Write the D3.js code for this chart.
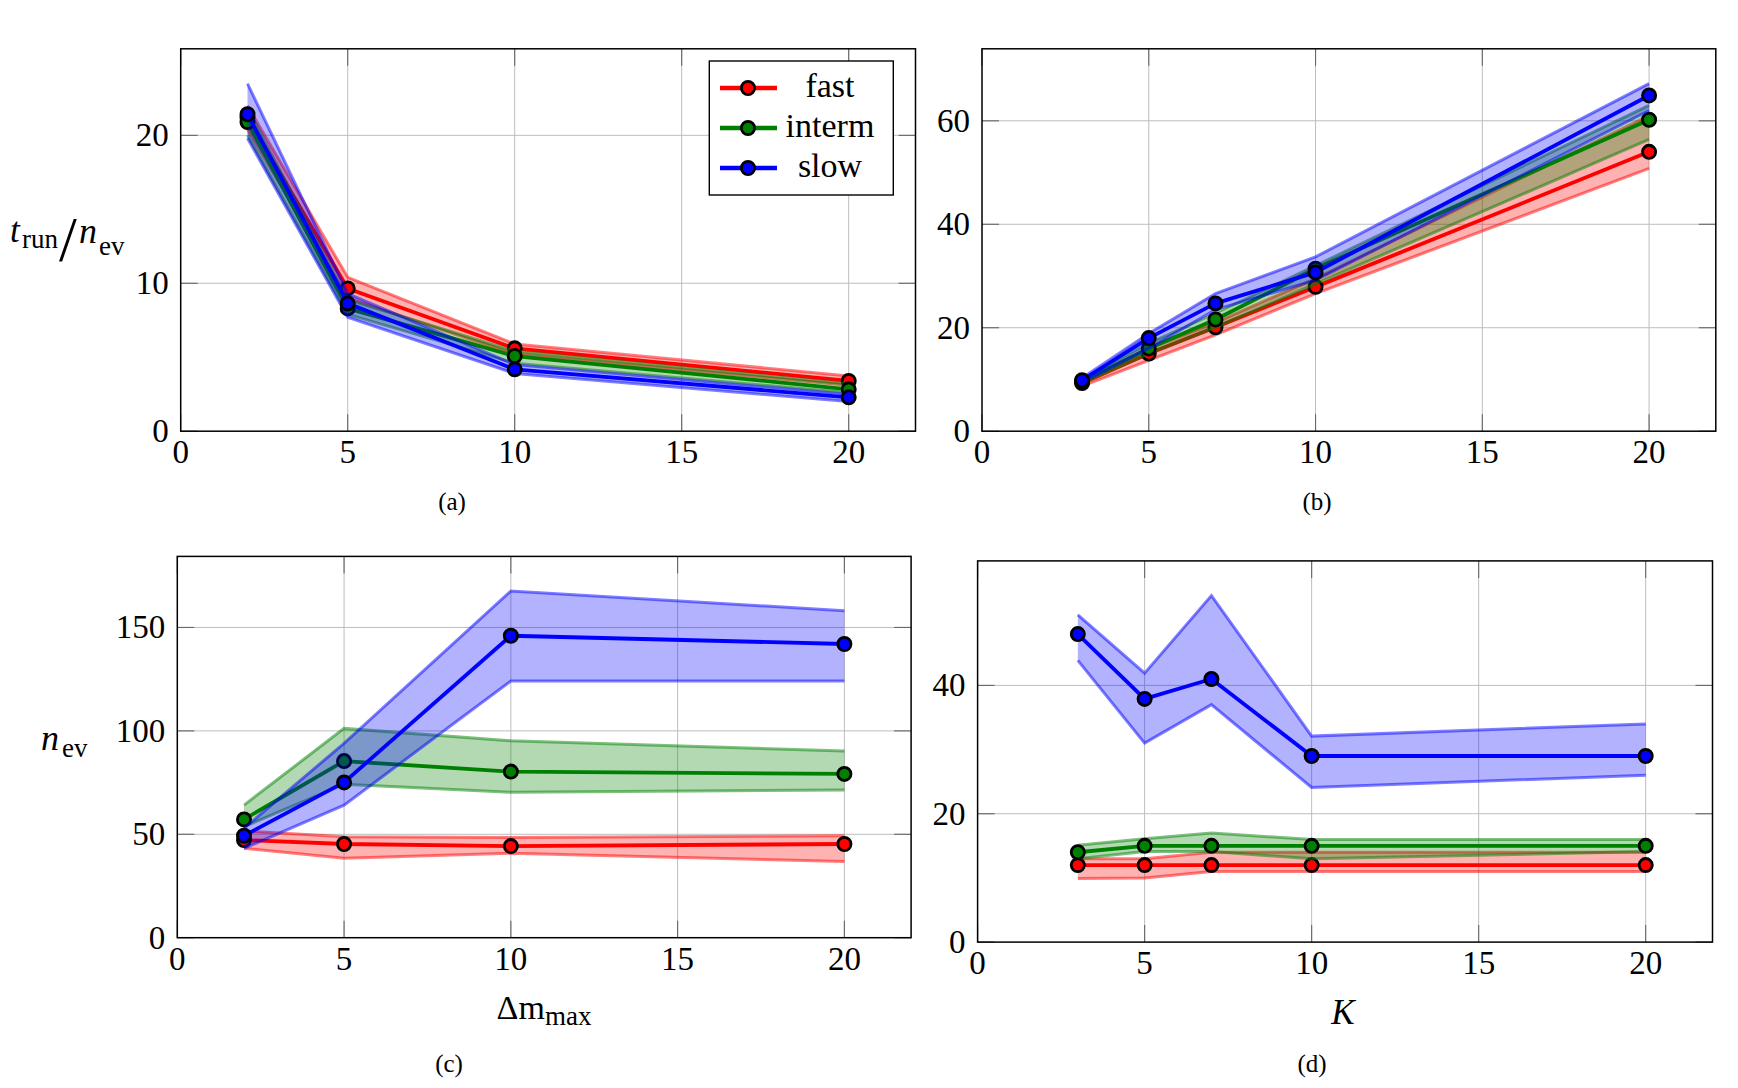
<!DOCTYPE html>
<html>
<head>
<meta charset="utf-8">
<script src="https://cdn.jsdelivr.net/npm/d3@7"></script>
<style>
  body { margin: 0; background: #fff; }
  text { font-family: "Liberation Serif", serif; fill: #000; }
</style>
</head>
<body>
<svg id="fig" width="1738" height="1088"></svg>
<script>
// series names and colours
const seriesNames = ["fast", "interm", "slow"];
const seriesColors = ["#ff0000", "#008000", "#0000ff"];
const xTicks = [0, 5, 10, 15, 20];

// (a) t_run / n_ev against Δm_max
const aX = [2, 5, 10, 20];
const aFastMean = [21.2, 9.65, 5.6, 3.4];
const aFastLow = [20.4, 9.0, 5.2, 3.1];
const aFastHigh = [22.0, 10.4, 5.9, 3.73];
const aIntermMean = [20.9, 8.3, 5.08, 2.83];
const aIntermLow = [20.0, 7.9, 4.6, 2.6];
const aIntermHigh = [21.8, 8.9, 5.4, 3.2];
const aSlowMean = [21.43, 8.64, 4.18, 2.29];
const aSlowLow = [19.8, 7.7, 3.9, 2.0];
const aSlowHigh = [23.5, 9.3, 4.5, 2.5];
const aYTicks = [0, 10, 20];

// (b) t_run / n_ev against K
const bX = [3, 5, 7, 10, 20];
const bFastMean = [9.3, 15.0, 20.1, 27.9, 54.0];
const bFastLow = [8.7, 13.7, 18.6, 26.6, 50.8];
const bFastHigh = [9.8, 16.0, 21.0, 29.5, 61.0];
const bIntermMean = [9.6, 16.0, 21.6, 31.4, 60.2];
const bIntermLow = [9.2, 15.0, 20.0, 28.5, 56.4];
const bIntermHigh = [10.1, 17.0, 22.8, 32.0, 63.0];
const bSlowMean = [9.85, 18.0, 24.7, 30.7, 64.9];
const bSlowLow = [9.4, 16.0, 23.5, 29.2, 62.0];
const bSlowHigh = [10.3, 18.9, 26.6, 33.7, 67.2];
const bYTicks = [0, 20, 40, 60];

// (c) n_ev against Δm_max
const cX = [2, 5, 10, 20];
const cFastMean = [47.2, 45.3, 44.3, 45.3];
const cFastLow = [43.2, 38.4, 40.8, 36.8];
const cFastHigh = [51.6, 48.8, 48.5, 49.3];
const cIntermMean = [57.2, 85.4, 80.3, 79.2];
const cIntermLow = [53.7, 74.2, 70.3, 71.4];
const cIntermHigh = [64.1, 101.2, 95.2, 90.3];
const cSlowMean = [49.3, 75.1, 146.0, 142.0];
const cSlowLow = [43.2, 64.1, 124.1, 124.1];
const cSlowHigh = [52.9, 94.0, 167.6, 158.1];
const cYTicks = [0, 50, 100, 150];

// (d) n_ev against K
const dX = [3, 5, 7, 10, 20];
const dFastMean = [12, 12, 12, 12, 12];
const dFastLow = [9.9, 10.0, 11.0, 11.0, 11.0];
const dFastHigh = [13.0, 13.0, 14.0, 14.0, 14.0];
const dIntermMean = [14.0, 15.0, 15.0, 15.0, 15.0];
const dIntermLow = [13.0, 14.1, 14.1, 13.0, 14.1];
const dIntermHigh = [15.1, 16.1, 17.0, 16.0, 16.0];
const dSlowMean = [48.0, 37.9, 41.0, 29.0, 29.0];
const dSlowLow = [43.9, 31.0, 37.0, 24.1, 26.0];
const dSlowHigh = [51.0, 41.9, 54.0, 32.1, 34.0];
const dYTicks = [0, 20, 40];

const svg = d3.select("#fig");
const markR = 6.6, markW = 2.8;

function makeSeries(x, groups) {
  return groups.map((gr, i) => ({
    name: seriesNames[i], color: seriesColors[i],
    pts: x.map((xv, j) => ({ x: xv, m: gr[0][j], lo: gr[1][j], hi: gr[2][j] }))
  }));
}

const panels = [
  { left: 180.7, right: 915.5, top: 48.8, bottom: 431.2, yTicks: aYTicks,
    series: makeSeries(aX, [[aFastMean, aFastLow, aFastHigh], [aIntermMean, aIntermLow, aIntermHigh], [aSlowMean, aSlowLow, aSlowHigh]]) },
  { left: 982.0, right: 1715.8, top: 48.8, bottom: 431.2, yTicks: bYTicks,
    series: makeSeries(bX, [[bFastMean, bFastLow, bFastHigh], [bIntermMean, bIntermLow, bIntermHigh], [bSlowMean, bSlowLow, bSlowHigh]]) },
  { left: 177.3, right: 911.1, top: 556.4, bottom: 937.7, yTicks: cYTicks,
    series: makeSeries(cX, [[cFastMean, cFastLow, cFastHigh], [cIntermMean, cIntermLow, cIntermHigh], [cSlowMean, cSlowLow, cSlowHigh]]) },
  { left: 977.6, right: 1712.5, top: 560.9, bottom: 942.1, yTicks: dYTicks,
    series: makeSeries(dX, [[dFastMean, dFastLow, dFastHigh], [dIntermMean, dIntermLow, dIntermHigh], [dSlowMean, dSlowLow, dSlowHigh]]) }
];

function drawPanel(p) {
  const g = svg.append("g");
  const x = d3.scaleLinear().domain([0, 22]).range([p.left, p.right]);
  // pgfplots style: ymin 0, ymax enlarged by 10 %
  const yMax = 1.1 * d3.max(p.series, s => d3.max(s.pts, d => d.hi));
  const y = d3.scaleLinear().domain([0, yMax]).range([p.bottom, p.top]);

  // grid
  g.selectAll(".gx").data(xTicks.filter(t => t > 0)).join("line")
    .attr("x1", d => x(d)).attr("x2", d => x(d))
    .attr("y1", p.top).attr("y2", p.bottom)
    .attr("stroke", "#bdbdbd").attr("stroke-width", 1);
  g.selectAll(".gy").data(p.yTicks.filter(t => t > 0)).join("line")
    .attr("y1", d => y(d)).attr("y2", d => y(d))
    .attr("x1", p.left).attr("x2", p.right)
    .attr("stroke", "#bdbdbd").attr("stroke-width", 1);

  // tick marks inside on all four sides
  const tl = 17;
  xTicks.forEach(t => {
    [[p.bottom, p.bottom - tl], [p.top, p.top + tl]].forEach(([a, b]) =>
      g.append("line").attr("x1", x(t)).attr("x2", x(t)).attr("y1", a).attr("y2", b)
        .attr("stroke", "#666").attr("stroke-width", 1.1));
  });
  p.yTicks.forEach(t => {
    [[p.left, p.left + tl], [p.right, p.right - tl]].forEach(([a, b]) =>
      g.append("line").attr("y1", y(t)).attr("y2", y(t)).attr("x1", a).attr("x2", b)
        .attr("stroke", "#666").attr("stroke-width", 1.1));
  });

  const area = d3.area().x(d => x(d.x)).y0(d => y(d.lo)).y1(d => y(d.hi));
  const lineLo = d3.line().x(d => x(d.x)).y(d => y(d.lo));
  const lineHi = d3.line().x(d => x(d.x)).y(d => y(d.hi));
  const lineM = d3.line().x(d => x(d.x)).y(d => y(d.m));

  p.series.forEach(s => {
    g.append("path").attr("d", area(s.pts))
      .attr("fill", s.color).attr("fill-opacity", 0.3).attr("stroke", "none");
    [lineLo, lineHi].forEach(l =>
      g.append("path").attr("d", l(s.pts)).attr("fill", "none")
        .attr("stroke", s.color).attr("stroke-opacity", 0.5).attr("stroke-width", 3));
    g.append("path").attr("d", lineM(s.pts)).attr("fill", "none")
      .attr("stroke", s.color).attr("stroke-width", 3.8).attr("stroke-linejoin", "round");
    g.selectAll(null).data(s.pts).join("circle")
      .attr("cx", d => x(d.x)).attr("cy", d => y(d.m)).attr("r", markR)
      .attr("fill", s.color).attr("stroke", "#000").attr("stroke-width", markW);
  });

  // frame
  g.append("rect").attr("x", p.left).attr("y", p.top)
    .attr("width", p.right - p.left).attr("height", p.bottom - p.top)
    .attr("fill", "none").attr("stroke", "#000").attr("stroke-width", 1.5);

  // tick labels
  g.selectAll(".xl").data(xTicks).join("text")
    .attr("x", d => x(d)).attr("y", p.bottom + 32)
    .attr("text-anchor", "middle").style("font-size", "33px").text(d => d);
  g.selectAll(".yl").data(p.yTicks).join("text")
    .attr("x", p.left - 12).attr("y", d => y(d) + 11)
    .attr("text-anchor", "end").style("font-size", "33px").text(d => d);
  return { x, y };
}

panels.forEach(drawPanel);

// legend in (a)
const leg = svg.append("g");
leg.append("rect").attr("x", 709.3).attr("y", 61).attr("width", 184).attr("height", 134)
  .attr("fill", "#fff").attr("stroke", "#000").attr("stroke-width", 1.4);
seriesNames.forEach((n, i) => {
  const yy = 88 + i * 40;
  leg.append("line").attr("x1", 720).attr("x2", 777).attr("y1", yy).attr("y2", yy)
    .attr("stroke", seriesColors[i]).attr("stroke-width", 4.5);
  leg.append("circle").attr("cx", 748).attr("cy", yy).attr("r", markR)
    .attr("fill", seriesColors[i]).attr("stroke", "#000").attr("stroke-width", markW);
  leg.append("text").attr("x", 830).attr("y", yy + 9).attr("text-anchor", "middle")
    .style("font-size", "34px").text(n);
});

// y label (a): t_run / n_ev
const yl = svg.append("g");
yl.append("text").attr("x", 10).attr("y", 242).style("font-size", "35px")
  .style("font-style", "italic").text("t");
yl.append("text").attr("x", 22).attr("y", 248).style("font-size", "27px").text("run");
yl.append("text").attr("x", 59).attr("y", 261).style("font-size", "64px").text("/");
yl.append("text").attr("x", 79).attr("y", 243).style("font-size", "36px")
  .style("font-style", "italic").text("n");
yl.append("text").attr("x", 99).attr("y", 255).style("font-size", "27px").text("ev");

// y label (c): n_ev
yl.append("text").attr("x", 41).attr("y", 750).style("font-size", "36px")
  .style("font-style", "italic").text("n");
yl.append("text").attr("x", 62).attr("y", 757).style("font-size", "27px").text("ev");

// x labels
const xlab = svg.append("text").attr("x", 544).attr("y", 1019).attr("text-anchor", "middle");
xlab.append("tspan").style("font-size", "34px").text("\u0394m");
xlab.append("tspan").style("font-size", "27px").attr("dy", 6).text("max");
svg.append("text").attr("x", 1343).attr("y", 1024).attr("text-anchor", "middle")
  .style("font-size", "35px").style("font-style", "italic").text("K");

// captions
const captions = [["(a)", 452, 510], ["(b)", 1317, 510], ["(c)", 449, 1072], ["(d)", 1312, 1072]];
svg.selectAll(".cap").data(captions).join("text")
  .attr("x", d => d[1]).attr("y", d => d[2]).attr("text-anchor", "middle")
  .style("font-size", "25px").text(d => d[0]);
</script>
</body>
</html>
